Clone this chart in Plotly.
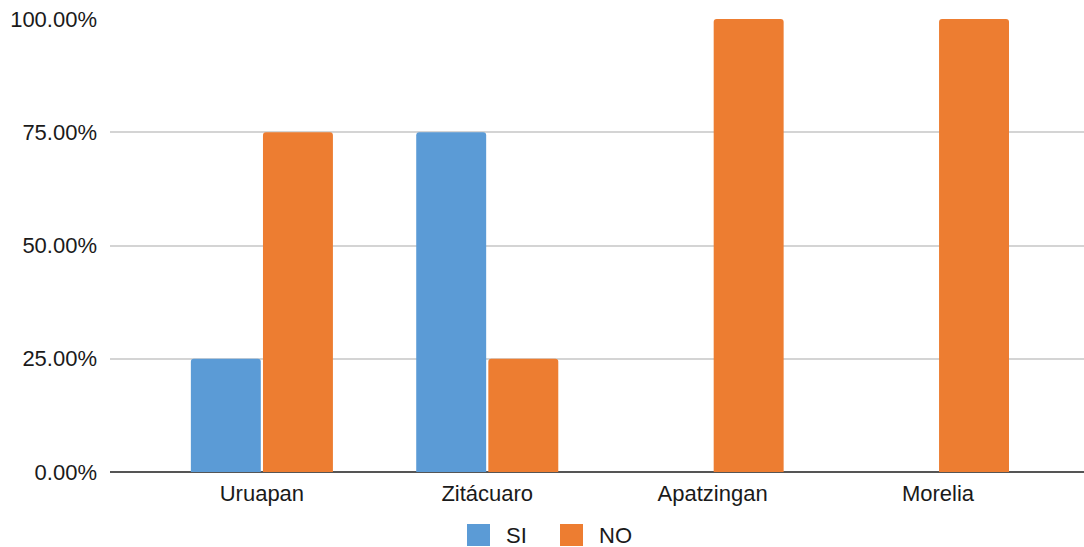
import plotly.graph_objects as go

# Survey answers per city (share of responses)
cities = ["Uruapan", "Zitácuaro", "Apatzingan", "Morelia"]
series_names = ["SI", "NO"]
si_share = [0.25, 0.75, 0.0, 0.0]
no_share = [0.75, 0.25, 1.0, 1.0]
y_ticks = [0, 0.25, 0.5, 0.75, 1.0]

BLUE = "#5B9BD6"
ORANGE = "#ED7D31"
COLORS = [BLUE, ORANGE]
FONT = "Liberation Sans, Arial, Helvetica, sans-serif"

W, H = 1084, 547
M_L, M_R, M_T, M_B = 110, 0, 19, 75
PLOT_W = W - M_L - M_R
PLOT_H = H - M_T - M_B


def px_x(px):
    return (px - M_L) / PLOT_W


def px_y(py):
    return (H - M_B - py) / PLOT_H


fig = go.Figure()
for name, vals, color in zip(series_names, [si_share, no_share], COLORS):
    fig.add_trace(go.Bar(x=cities, y=vals, name=name, showlegend=False,
                         marker=dict(color=color, cornerradius=3, line=dict(width=0))))

# Legend drawn below the axis: large swatches followed by the series name
legend_left = [467, 560]
shapes, annotations = [], []
for name, color, left in zip(series_names, COLORS, legend_left):
    shapes.append(dict(type="rect", xref="paper", yref="paper",
                       x0=px_x(left), x1=px_x(left + 23),
                       y0=px_y(546), y1=px_y(524),
                       fillcolor=color, line=dict(width=0), layer="above"))
    annotations.append(dict(text=name, xref="paper", yref="paper",
                            x=px_x(left + 37), y=px_y(535),
                            xanchor="left", yanchor="middle", showarrow=False,
                            font=dict(size=22, color="#1a1a1a")))

fig.update_layout(
    width=W, height=H,
    margin=dict(l=M_L, r=M_R, t=M_T, b=M_B, autoexpand=False),
    paper_bgcolor="white", plot_bgcolor="white",
    barmode="group", bargap=0.36, bargroupgap=0.03,
    font=dict(family=FONT, size=22, color="#1a1a1a"),
    showlegend=False,
    shapes=shapes, annotations=annotations,
    xaxis=dict(range=[-0.674, 3.648], showgrid=False, ticks="", showline=False,
               zeroline=False, tickfont=dict(size=22), ticklabelstandoff=6),
    yaxis=dict(range=[0, 1.0], tickvals=y_ticks, tickformat=".2%",
               showgrid=True, gridcolor="#d4d4d4", gridwidth=1.5,
               zeroline=True, zerolinecolor="#555555", zerolinewidth=1.5,
               ticks="", ticklabelstandoff=12, tickfont=dict(size=22)),
)

fig.write_html("out.html")
